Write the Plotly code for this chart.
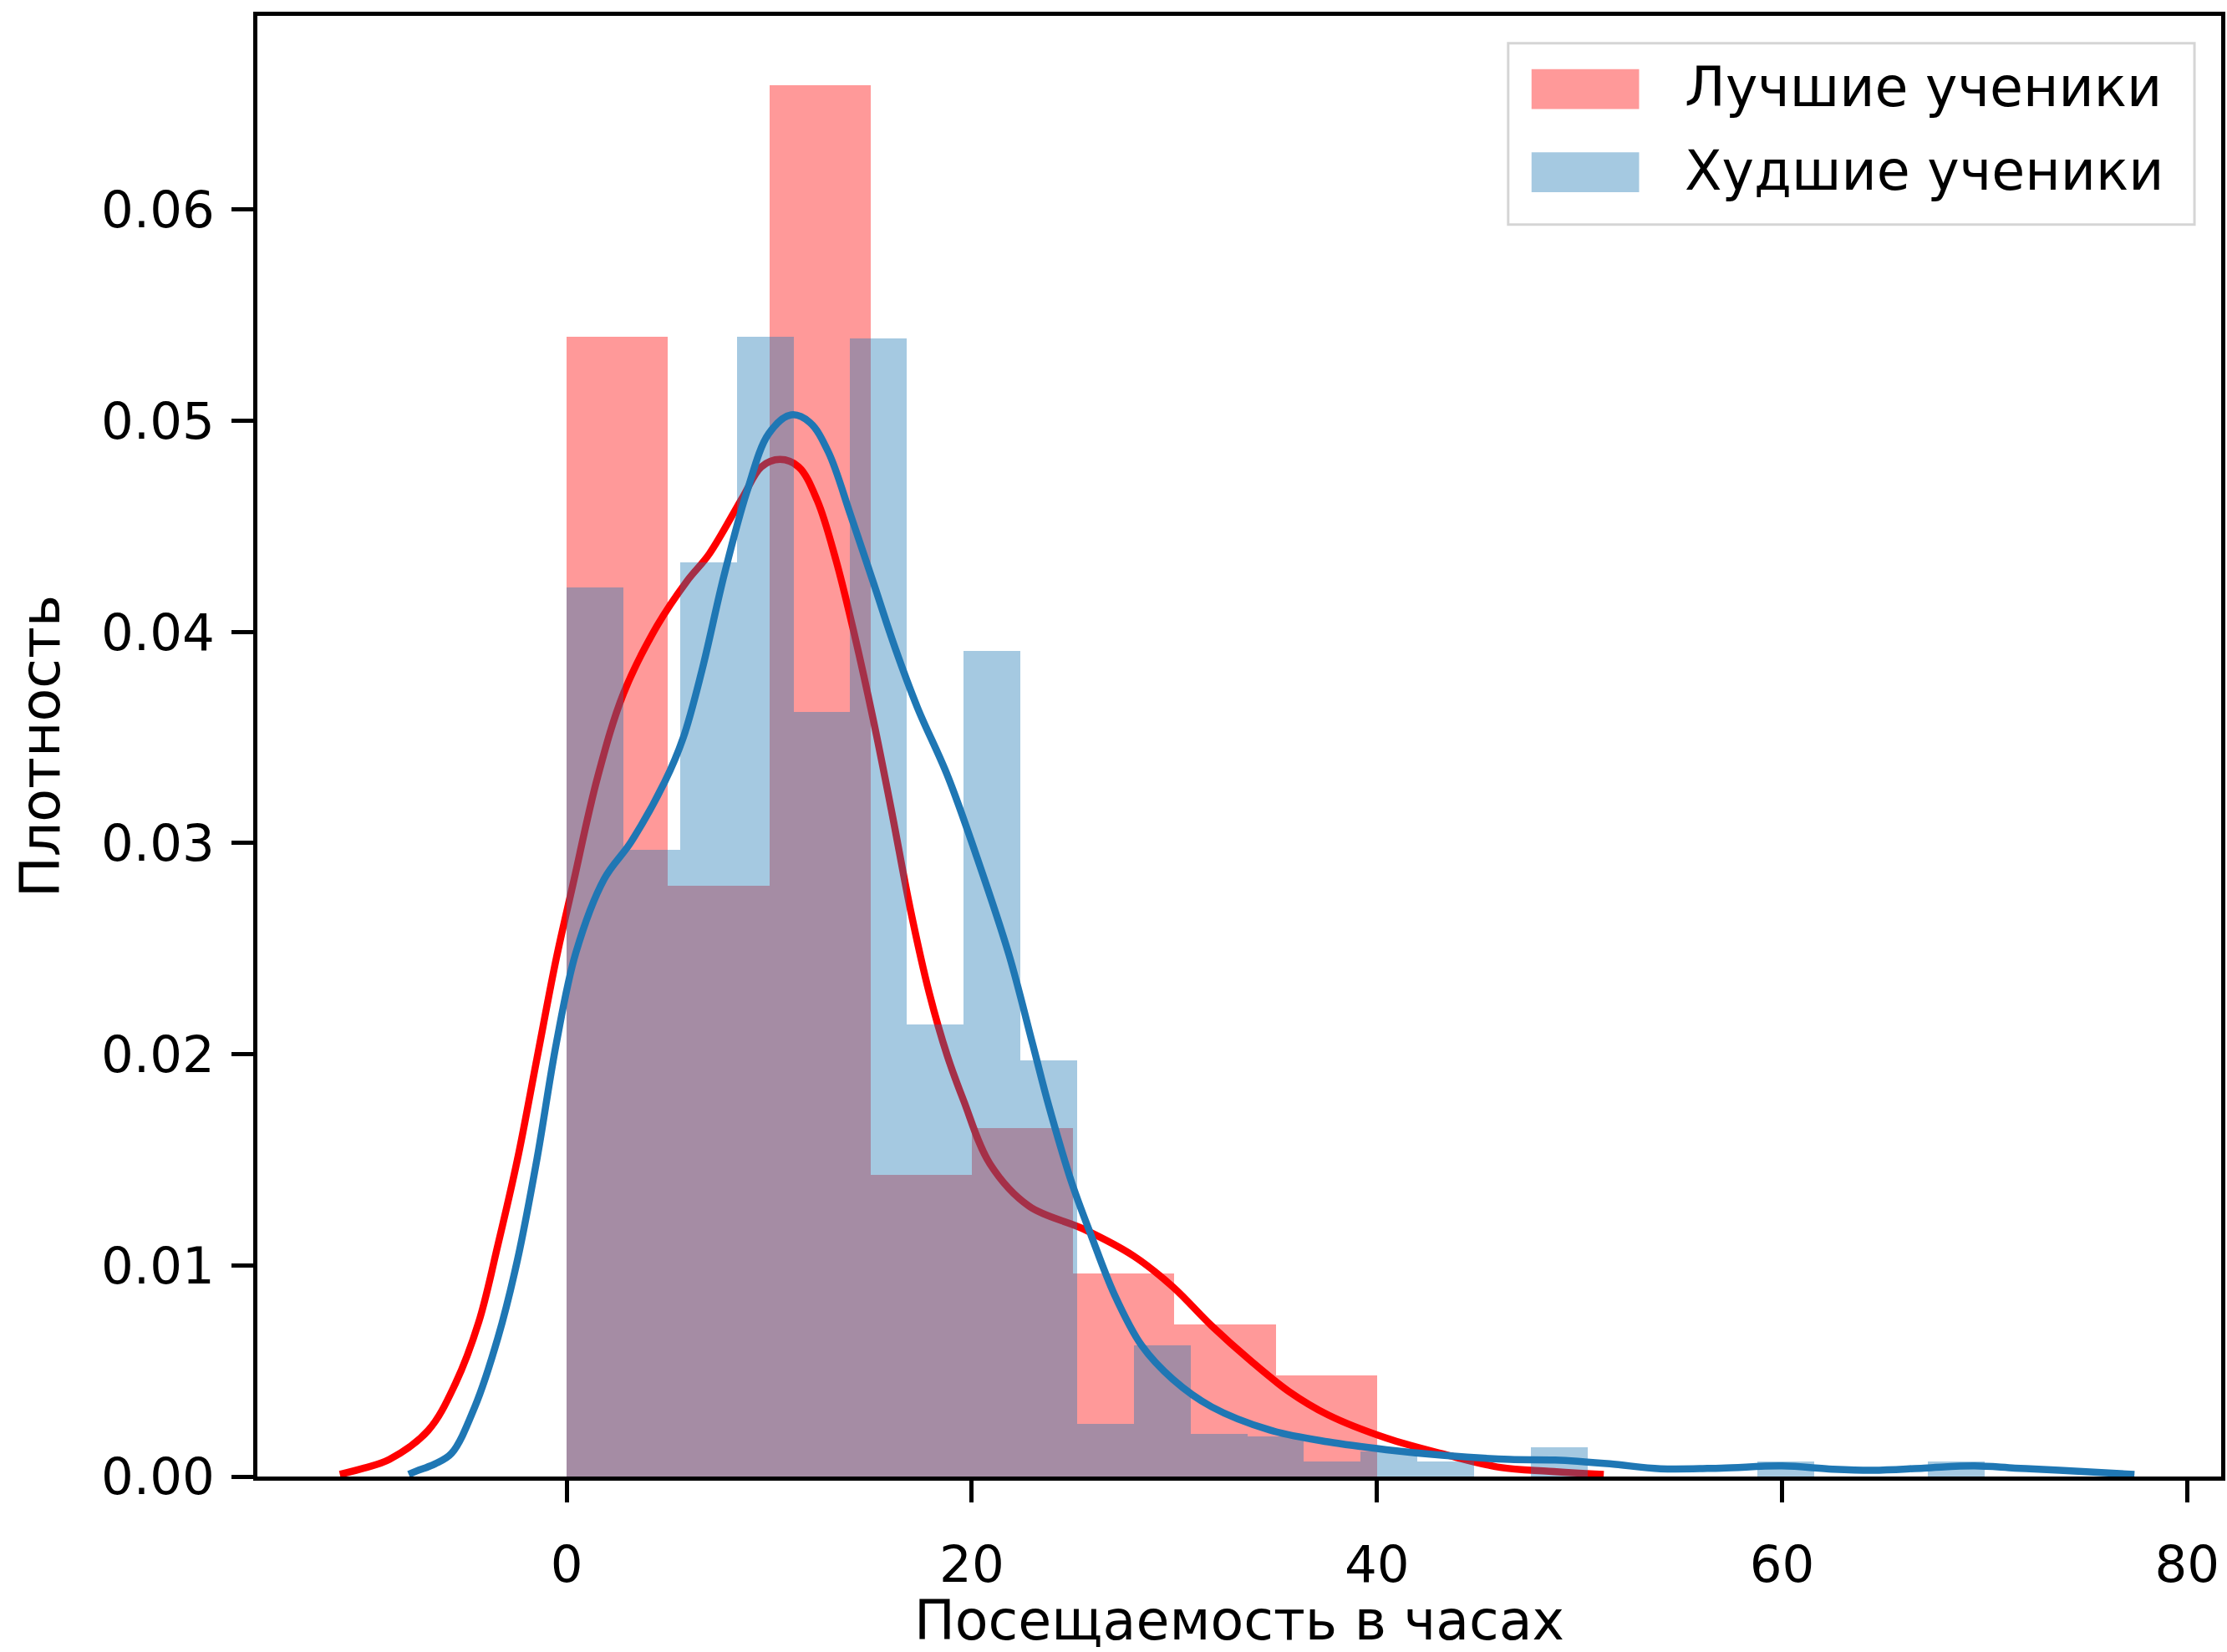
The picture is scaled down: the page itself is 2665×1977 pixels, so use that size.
import plotly.graph_objects as go

# ---------------- data ----------------
red_name = "Лучшие ученики"
blue_name = "Худшие ученики"

red_bin_edges = [0, 5, 10, 15, 20, 25, 30, 35, 40]
red_density = [0.0540, 0.0280, 0.0659, 0.0143, 0.0165, 0.0096, 0.0072, 0.0048]

blue_bin_edges = [0.0, 2.8, 5.6, 8.4, 11.2, 14.0, 16.8, 19.6, 22.4, 25.2, 28.0,
                  30.8, 33.6, 36.4, 39.2, 42.0, 44.8, 47.6, 50.4, 53.2, 56.0,
                  58.8, 61.6, 64.4, 67.2, 70.0]
blue_density = [0.0421, 0.0297, 0.0433, 0.0540, 0.0362, 0.0539, 0.0214, 0.0391,
                0.0197, 0.0025, 0.0062, 0.0020, 0.0019, 0.0007, 0.0012, 0.0007,
                0.0, 0.0014, 0.0, 0.0, 0.0, 0.0007, 0.0, 0.0, 0.0007]

red_kde_x = [-11.2, -10.0, -8.75, -6.83, -5.5, -4.34, -3.39, -2.43, -1.47, -0.51,
             0.3, 1.52, 2.81, 4.47, 5.93, 7.04, 8.7, 9.61, 10.53, 11.45, 12.37,
             13.29, 14.2, 15.13, 16.05, 16.96, 17.9, 18.8, 19.6, 20.9, 22.83, 25.52,
             28.0, 29.93, 31.84, 33.76, 35.67, 37.59, 40.47, 43.34, 46.1, 48.5, 51.2]
red_kde_y = [0.0001, 0.0004, 0.00081, 0.00219, 0.00439, 0.00732, 0.01099, 0.01502,
             0.01979, 0.02455, 0.0280, 0.0331, 0.0371, 0.0403, 0.0424, 0.0437, 0.0464,
             0.04782, 0.04817, 0.04782, 0.04623, 0.04342, 0.0399, 0.03587, 0.03147,
             0.0269, 0.0229, 0.0199, 0.0178, 0.0148, 0.0128, 0.01172, 0.01044, 0.00898,
             0.00714, 0.00549, 0.00402, 0.00292, 0.00182, 0.00105, 0.00043, 0.00025,
             0.0001]

blue_kde_x = [-7.8, -7.41, -6.5, -5.69, -4.54, -3.39, -2.43, -1.47, -0.51, 0.45,
              1.85, 3.18, 4.83, 5.75, 6.67, 7.78, 8.88, 9.98, 11.08, 12.0, 12.92,
              14.02, 15.13, 16.23, 17.33, 18.8, 20.3, 21.84, 23.0, 23.79, 24.94, 25.9,
              27.05, 28.39, 29.93, 31.84, 34.72, 37.59, 40.47, 43.34, 46.56, 48.8,
              51.5, 54.0, 57.0, 60.0, 62.5, 64.5, 67.0, 69.5, 71.5, 73.7, 77.4]
blue_kde_y = [0.0001, 0.00026, 0.0006, 0.00109, 0.00329, 0.00659, 0.01026, 0.01502,
              0.02052, 0.0248, 0.0283, 0.03006, 0.03288, 0.03498, 0.03815, 0.04272,
              0.04659, 0.0494, 0.05028, 0.04993, 0.04852, 0.04553, 0.04237, 0.0392,
              0.03639, 0.0332, 0.0292, 0.0247, 0.0205, 0.0176, 0.0139, 0.0114, 0.0086,
              0.0062, 0.0046, 0.0033, 0.0022, 0.00164, 0.00127, 0.001, 0.00081,
              0.00078, 0.0006, 0.00037, 0.0004, 0.0005, 0.00035, 0.0003, 0.0004,
              0.0005, 0.0004, 0.0003, 0.0001]

x_ticks = [0, 20, 40, 60, 80]
y_ticks = [0.00, 0.01, 0.02, 0.03, 0.04, 0.05, 0.06]
x_title = "Посещаемость в часах"
y_title = "Плотность"

# ---------------- figure ----------------
W, H = 2665, 1977
ML, MR, MT, MB = 308, 2, 19, 201
XR = [-15.27, 81.68]
YR = [0, 0.06918]
FONT = "DejaVu Sans"
FS = 61        # tick labels
FS_TXT = 65    # cyrillic labels

red_fill = "rgba(255,0,0,0.4)"
blue_fill = "rgba(31,119,180,0.4)"

def lefts(edges):
    return edges[:-1]

def widths(edges):
    return [b - a for a, b in zip(edges[:-1], edges[1:])]

fig = go.Figure()
fig.add_trace(go.Bar(x=lefts(red_bin_edges), y=red_density, width=widths(red_bin_edges),
                     offset=0, marker=dict(color=red_fill, line=dict(width=0)),
                     name=red_name, showlegend=False, xaxis="x", yaxis="y"))
fig.add_trace(go.Scatter(x=red_kde_x, y=red_kde_y, mode="lines",
                         line=dict(color="#ff0000", width=8.5, shape="spline", smoothing=1.0),
                         showlegend=False, xaxis="x", yaxis="y"))
fig.add_trace(go.Bar(x=lefts(blue_bin_edges), y=blue_density, width=widths(blue_bin_edges),
                     offset=0, marker=dict(color=blue_fill, line=dict(width=0)),
                     name=blue_name, showlegend=False, xaxis="x2", yaxis="y2"))
fig.add_trace(go.Scatter(x=blue_kde_x, y=blue_kde_y, mode="lines",
                         line=dict(color="#1f77b4", width=8.5, shape="spline", smoothing=1.0),
                         showlegend=False, xaxis="x2", yaxis="y2"))

axis_common = dict(showgrid=False, zeroline=False, showline=True, linecolor="black",
                   linewidth=5, mirror=True, ticks="outside", ticklen=26, tickwidth=4.5,
                   tickcolor="black", tickfont=dict(family=FONT, size=FS, color="black"))

fig.update_layout(
    width=W, height=H,
    margin=dict(l=ML, r=MR, t=MT, b=MB, pad=0),
    paper_bgcolor="white", plot_bgcolor="white",
    barmode="overlay", bargap=0,
    font=dict(family=FONT, size=FS, color="black"),
    xaxis=dict(range=XR, tickvals=x_ticks, ticktext=[str(v) for v in x_ticks],
               ticklabelstandoff=22,
               title=dict(text=x_title, font=dict(family=FONT, size=FS_TXT), standoff=22),
               **axis_common),
    yaxis=dict(range=YR, tickvals=y_ticks, ticktext=[f"{v:.2f}" for v in y_ticks],
               ticklabelstandoff=8,
               title=dict(text=y_title, font=dict(family=FONT, size=FS_TXT), standoff=30),
               **axis_common),
    xaxis2=dict(range=XR, overlaying="x", visible=False),
    yaxis2=dict(range=YR, overlaying="y", visible=False),
)

# ---------------- legend (drawn as shapes + text) ----------------
def px2paper_x(px):
    return (px - ML) / (W - ML - MR)

def px2paper_y(py):
    return (H - MB - py) / (H - MT - MB)

fig.add_shape(type="rect", xref="paper", yref="paper",
              x0=px2paper_x(1808), x1=px2paper_x(2631), y0=px2paper_y(270), y1=px2paper_y(52),
              fillcolor="rgba(255,255,255,0.8)", line=dict(color="#d5d5d5", width=3), layer="above")
for (yt, yb, col, label) in [(83, 131, red_fill, red_name), (183, 231, blue_fill, blue_name)]:
    fig.add_shape(type="rect", xref="paper", yref="paper",
                  x0=px2paper_x(1836), x1=px2paper_x(1965), y0=px2paper_y(yb), y1=px2paper_y(yt),
                  fillcolor=col, line=dict(width=0), layer="above")
    fig.add_annotation(xref="paper", yref="paper", x=px2paper_x(2018), y=px2paper_y((yt + yb) / 2 - 2),
                       xanchor="left", yanchor="middle", showarrow=False, text=label,
                       font=dict(family=FONT, size=FS_TXT, color="black"))

fig.write_html("out.html")
